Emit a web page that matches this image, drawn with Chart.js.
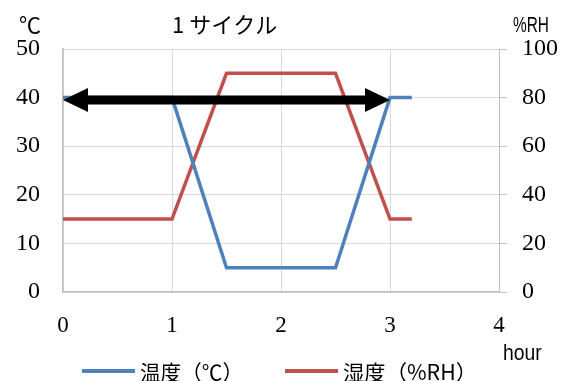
<!DOCTYPE html>
<html>
<head>
<meta charset="utf-8">
<script src="https://cdn.jsdelivr.net/npm/chart.js@4"></script>
<style>
html, body { margin: 0; padding: 0; background: #fff; }
</style>
</head>
<body>
<canvas id="chart" width="571" height="381"></canvas>
<script>
// chart values
const hours = [0, 1, 1.5, 2.5, 3, 3.2];
const tempC = [40, 40, 5, 5, 40, 40];
const humidity = [30, 30, 90, 90, 30, 30];
const arrowHours = [0, 3];
const arrowTemp = 40;

const titleText = '1 サイクル';
const tempLabel = '温度（℃）';
const humLabel = '湿度（%RH）';
const leftUnit = '℃';
const rightUnit = '%RH';
const xUnit = 'hour';

const blue = '#4f81bd';
const red = '#c0504d';
const sans = '"Noto Sans CJK JP", "Noto Sans", sans-serif';
const latin = '"Liberation Sans", Arial, sans-serif';
const serif = '"Liberation Serif", serif';

// draws text squeezed or stretched sideways
function scaledText(ctx, text, x, y, sx) {
    ctx.save();
    ctx.translate(x, y);
    ctx.scale(sx, 1);
    ctx.fillText(text, 0, 0);
    ctx.restore();
}

// double headed arrow across one cycle, plus the loose labels
const extras = {
    id: 'extras',
    afterDatasetsDraw(chart) {
        const ctx = chart.ctx;
        const xs = chart.scales.x;
        const ys = chart.scales.y;
        const x0 = xs.getPixelForValue(arrowHours[0]);
        const x1 = xs.getPixelForValue(arrowHours[1]);
        const y = ys.getPixelForValue(arrowTemp) + 2.5;
        const head = 25, half = 12, shaft = 4.5;
        ctx.save();
        ctx.fillStyle = '#000';
        ctx.beginPath();
        ctx.moveTo(x0, y);
        ctx.lineTo(x0 + head, y - half);
        ctx.lineTo(x0 + head, y - shaft);
        ctx.lineTo(x1 - head, y - shaft);
        ctx.lineTo(x1 - head, y - half);
        ctx.lineTo(x1, y);
        ctx.lineTo(x1 - head, y + half);
        ctx.lineTo(x1 - head, y + shaft);
        ctx.lineTo(x0 + head, y + shaft);
        ctx.lineTo(x0 + head, y + half);
        ctx.closePath();
        ctx.fill();
        ctx.restore();
    },
    afterDraw(chart) {
        const ctx = chart.ctx;
        ctx.save();
        ctx.fillStyle = '#000';
        ctx.textBaseline = 'middle';

        ctx.font = '22px ' + sans;
        ctx.textAlign = 'center';
        ctx.fillText(leftUnit, 30, 25);
        ctx.textAlign = 'left';
        ctx.fillText(titleText, 172, 25);

        ctx.font = '22px ' + latin;
        scaledText(ctx, rightUnit, 513, 26, 0.7);
        scaledText(ctx, xUnit, 503, 354, 0.88);

        // legend, text fitted to the width it has in the original
        const items = [
            { label: tempLabel, color: blue, x: 82, w: 103 },
            { label: humLabel, color: red, x: 285, w: 134 }
        ];
        ctx.font = '21px ' + sans;
        items.forEach(it => {
            ctx.strokeStyle = it.color;
            ctx.lineWidth = 4;
            ctx.beginPath();
            ctx.moveTo(it.x, 371);
            ctx.lineTo(it.x + 53, 371);
            ctx.stroke();
            const sx = Math.min(1.15, it.w / ctx.measureText(it.label).width);
            scaledText(ctx, it.label, it.x + 58, 372, sx);
        });
        ctx.restore();
    }
};

new Chart(document.getElementById('chart'), {
    type: 'line',
    data: {
        datasets: [
            {
                label: tempLabel,
                data: hours.map((h, i) => ({ x: h, y: tempC[i] })),
                borderColor: blue,
                backgroundColor: blue,
                borderWidth: 3.5,
                pointRadius: 0,
                tension: 0,
                yAxisID: 'y'
            },
            {
                label: humLabel,
                data: hours.map((h, i) => ({ x: h, y: humidity[i] })),
                borderColor: red,
                backgroundColor: red,
                borderWidth: 3.5,
                pointRadius: 0,
                tension: 0,
                yAxisID: 'y1'
            }
        ]
    },
    options: {
        responsive: false,
        animation: false,
        devicePixelRatio: 1,
        layout: { padding: { top: 49, left: 0, right: 0, bottom: 0 } },
        plugins: {
            legend: { display: false },
            tooltip: { enabled: false }
        },
        scales: {
            x: {
                type: 'linear',
                min: 0,
                max: 4,
                ticks: { stepSize: 1, padding: 20, color: '#000', font: { family: serif, size: 23 } },
                grid: { color: '#d9d9d9', lineWidth: 1, drawTicks: false },
                border: { color: '#bfbfbf', width: 1.5 },
                afterFit: s => { s.height = 89; }
            },
            y: {
                position: 'left',
                min: 0,
                max: 50,
                ticks: { stepSize: 10, padding: 23, color: '#000', font: { family: serif, size: 24 } },
                grid: { color: '#d9d9d9', lineWidth: 1, drawTicks: false },
                border: { color: '#bfbfbf', width: 1.5 },
                afterFit: s => { s.width = 63; }
            },
            y1: {
                position: 'right',
                min: 0,
                max: 100,
                ticks: { stepSize: 20, padding: 15, color: '#000', font: { family: serif, size: 24 } },
                grid: { drawOnChartArea: false, drawTicks: true, tickLength: 8, color: '#bfbfbf' },
                border: { color: '#bfbfbf', width: 1 },
                afterFit: s => { s.width = 72; }
            }
        }
    },
    plugins: [extras]
});
</script>
</body>
</html>
